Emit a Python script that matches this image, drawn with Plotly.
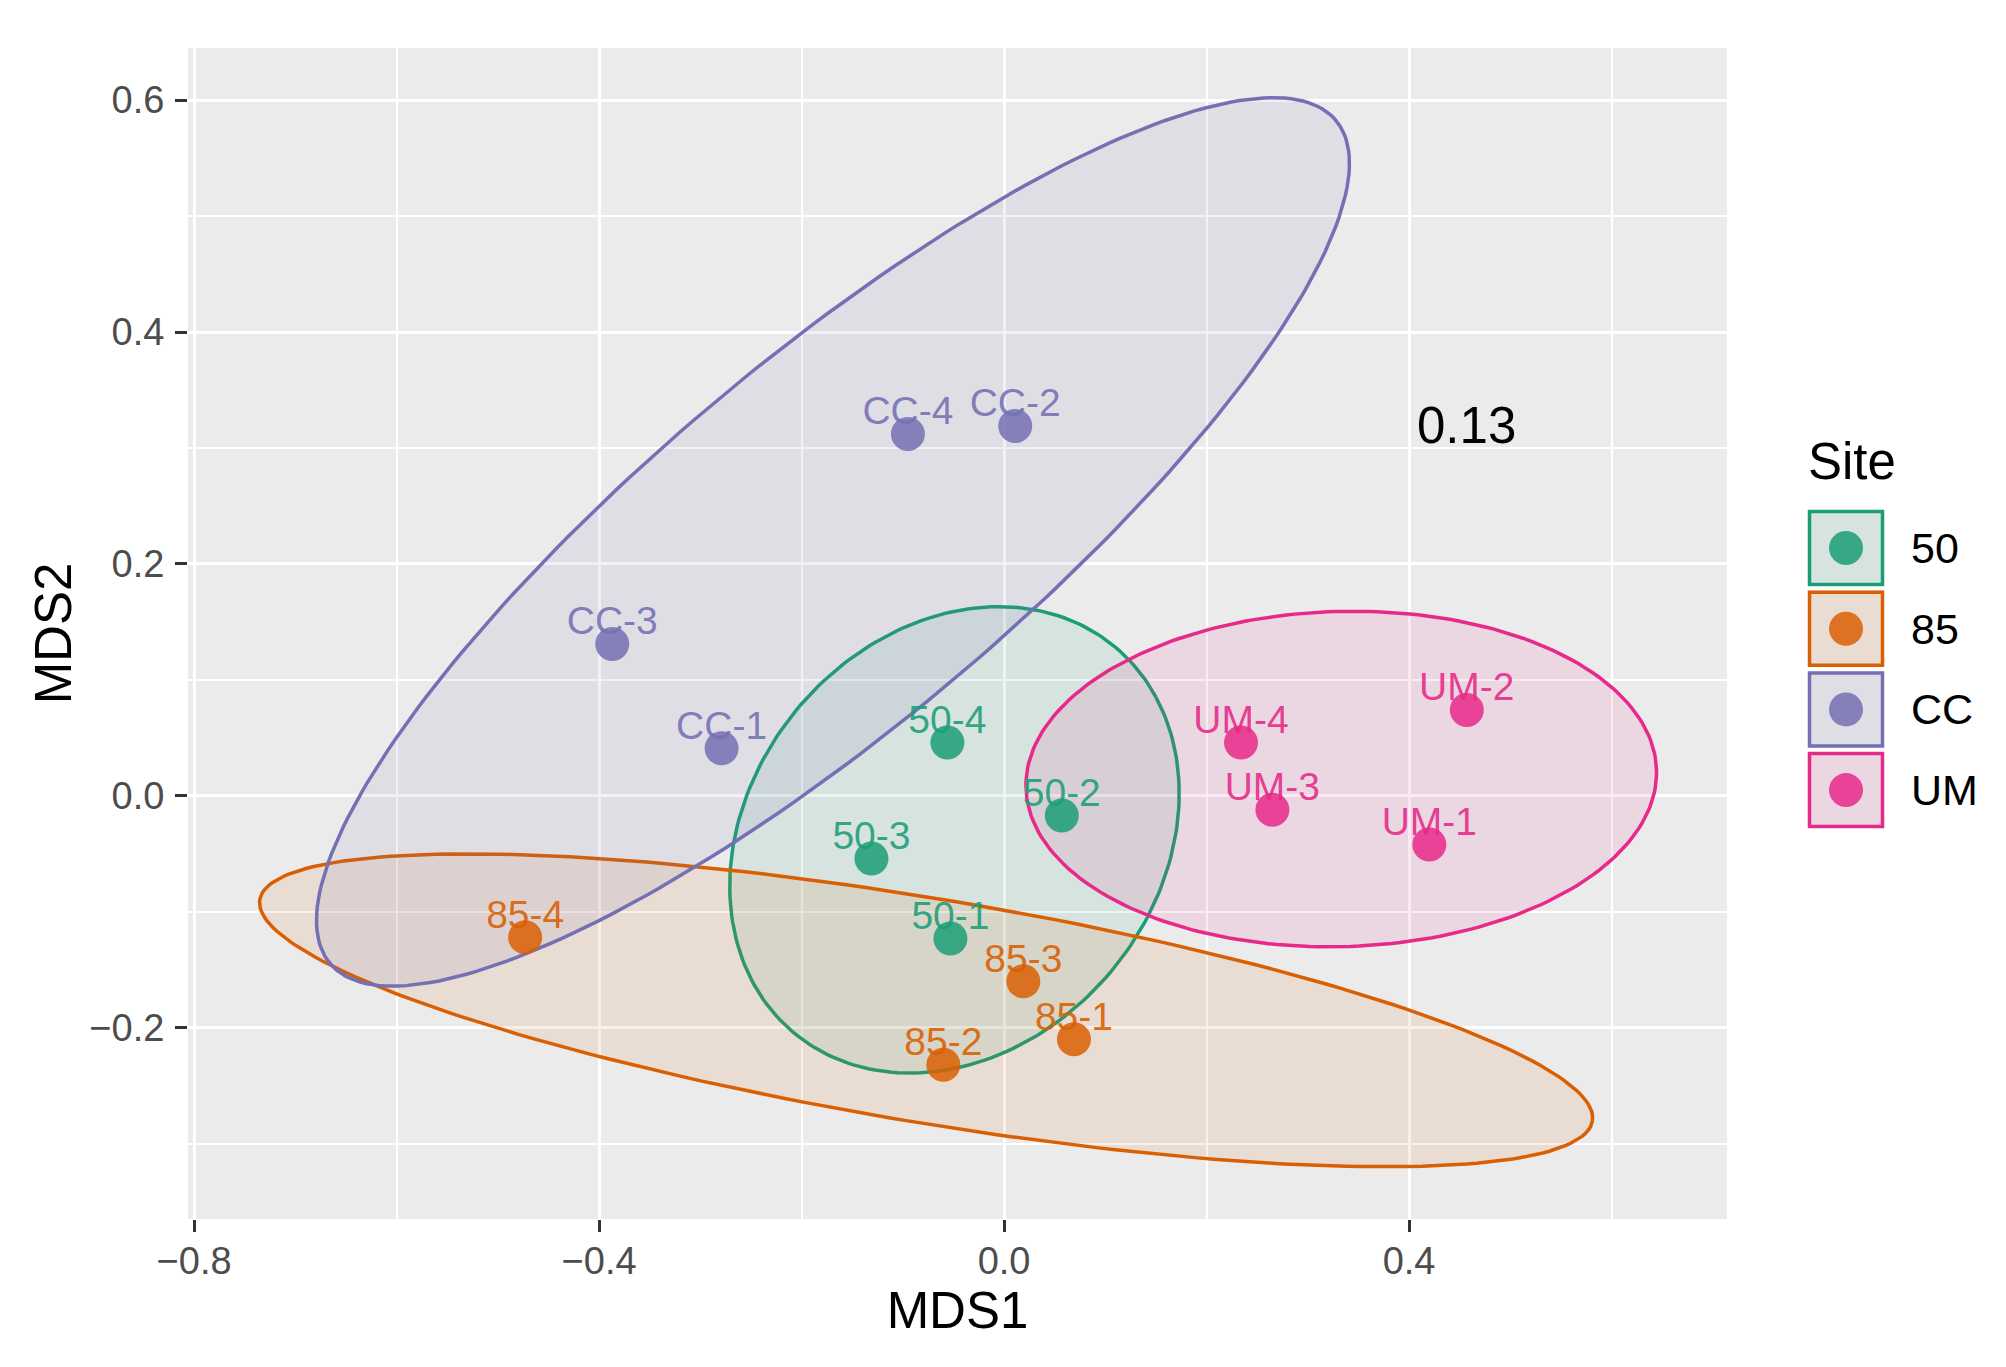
import numpy as np
import plotly.graph_objects as go

# NMDS ordination of the sites
sites = ["50", "85", "CC", "UM"]
colors = ["#1B9E77", "#D95F02", "#7570B3", "#E7298A"]

labels_50 = ["50-1", "50-2", "50-3", "50-4"]
mds1_50 = [-0.053, 0.057, -0.131, -0.056]
mds2_50 = [-0.123, -0.017, -0.054, 0.046]

labels_85 = ["85-1", "85-2", "85-3", "85-4"]
mds1_85 = [0.069, -0.060, 0.019, -0.473]
mds2_85 = [-0.210, -0.232, -0.160, -0.122]

labels_cc = ["CC-1", "CC-2", "CC-3", "CC-4"]
mds1_cc = [-0.279, 0.011, -0.387, -0.095]
mds2_cc = [0.041, 0.319, 0.131, 0.312]

labels_um = ["UM-1", "UM-2", "UM-3", "UM-4"]
mds1_um = [0.420, 0.457, 0.265, 0.234]
mds2_um = [-0.042, 0.074, -0.012, 0.046]

# confidence ellipses per site: centre, semi axes, tilt (deg)
ell_cx = [-0.049, -0.077, -0.169, 0.333]
ell_cy = [-0.038, -0.185, 0.219, 0.0145]
ell_a = [0.234, 0.665, 0.616, 0.3115]
ell_b = [0.187, 0.097, 0.166, 0.1446]
ell_angle = [31.8, -8.2, 35.6, 1.3]

stress = "0.13"
stress_x = 0.457
stress_y = 0.319

groups = [
    (labels_50, mds1_50, mds2_50),
    (labels_85, mds1_85, mds2_85),
    (labels_cc, mds1_cc, mds2_cc),
    (labels_um, mds1_um, mds2_um),
]

FONT = "Liberation Sans, Arial, sans-serif"


def rgba(hex_color, alpha):
    h = hex_color.lstrip("#")
    r, g, b = int(h[0:2], 16), int(h[2:4], 16), int(h[4:6], 16)
    return f"rgba({r},{g},{b},{alpha})"


def ellipse(cx, cy, a, b, angle, n=240):
    t = np.linspace(0, 2 * np.pi, n)
    th = np.deg2rad(angle)
    x = cx + a * np.cos(t) * np.cos(th) - b * np.sin(t) * np.sin(th)
    y = cy + a * np.cos(t) * np.sin(th) + b * np.sin(t) * np.cos(th)
    return x, y


fig = go.Figure()

for i, site in enumerate(sites):
    ex, ey = ellipse(ell_cx[i], ell_cy[i], ell_a[i], ell_b[i], ell_angle[i])
    fig.add_trace(go.Scatter(
        x=ex, y=ey, mode="lines", fill="toself",
        fillcolor=rgba(colors[i], 0.1),
        line=dict(color=colors[i], width=3.5),
        showlegend=False, hoverinfo="skip",
    ))

for i, (labs, xs, ys) in enumerate(groups):
    fig.add_trace(go.Scatter(
        x=xs, y=ys, mode="markers",
        marker=dict(color=colors[i], size=34, opacity=0.85, line=dict(width=0)),
        showlegend=False, name=sites[i],
    ))

for i, (labs, xs, ys) in enumerate(groups):
    fig.add_trace(go.Scatter(
        x=xs, y=ys, mode="text", text=labs, textposition="top center",
        textfont=dict(family=FONT, size=39, color=rgba(colors[i], 0.9)),
        showlegend=False, hoverinfo="skip",
    ))

fig.add_annotation(
    x=stress_x, y=stress_y, text=stress, showarrow=False,
    font=dict(family=FONT, size=51, color="black"),
    xanchor="center", yanchor="middle",
)

# hand-drawn ggplot style legend to the right of the panel
shapes = []
annotations = []
annotations.append(dict(
    xref="paper", yref="paper", x=1, y=1, xshift=79, yshift=-413,
    text="Site", showarrow=False, xanchor="left", yanchor="middle",
    font=dict(family=FONT, size=51, color="black"),
))
for i, site in enumerate(sites):
    top = -(462 + 80.7 * i)
    common = dict(xref="paper", yref="paper", xsizemode="pixel", ysizemode="pixel",
                  xanchor=1, yanchor=1)
    shapes.append(dict(type="rect", x0=81, x1=157, y0=top - 76, y1=top,
                       fillcolor="#EBEBEB", line=dict(width=0), layer="above", **common))
    shapes.append(dict(type="rect", x0=82.5, x1=155.5, y0=top - 74.5, y1=top - 1.5,
                       fillcolor=rgba(colors[i], 0.1),
                       line=dict(color=colors[i], width=3.5), layer="above", **common))
    shapes.append(dict(type="circle", x0=102, x1=136, y0=top - 55, y1=top - 21,
                       fillcolor=rgba(colors[i], 0.85), line=dict(width=0),
                       layer="above", **common))
    annotations.append(dict(
        xref="paper", yref="paper", x=1, y=1, xshift=182, yshift=top - 38,
        text=site, showarrow=False, xanchor="left", yanchor="middle",
        font=dict(family=FONT, size=43, color="black"),
    ))

fig.update_layout(
    width=2006, height=1367,
    margin=dict(l=188, r=279, t=48, b=148),
    paper_bgcolor="white", plot_bgcolor="#EBEBEB",
    font=dict(family=FONT),
    showlegend=False,
    shapes=shapes,
)
for a in annotations:
    fig.add_annotation(**a)

axis_common = dict(
    showgrid=True, gridcolor="white", gridwidth=3,
    zeroline=False, showline=False,
    ticks="outside", ticklen=12, tickwidth=2.5, tickcolor="#333333",
    tickformat=".1f",
    tickfont=dict(family=FONT, size=38, color="#4D4D4D"),
)
fig.update_xaxes(
    range=[-0.806, 0.714], tick0=0, dtick=0.4, ticklabelstandoff=-4,
    minor=dict(tick0=0, dtick=0.2, showgrid=True, gridcolor="white", gridwidth=1.5, ticks=""),
    title=dict(text="MDS1", font=dict(family=FONT, size=51, color="black"), standoff=10),
    **axis_common,
)
fig.update_yaxes(
    range=[-0.365, 0.645], tick0=0, dtick=0.2, ticklabelstandoff=3,
    minor=dict(tick0=0, dtick=0.1, showgrid=True, gridcolor="white", gridwidth=1.5, ticks=""),
    title=dict(text="MDS2", font=dict(family=FONT, size=51, color="black"), standoff=1),
    **axis_common,
)

fig.write_html("out.html", config={"displayModeBar": False},
               post_script="document.body.style.margin='0';")
